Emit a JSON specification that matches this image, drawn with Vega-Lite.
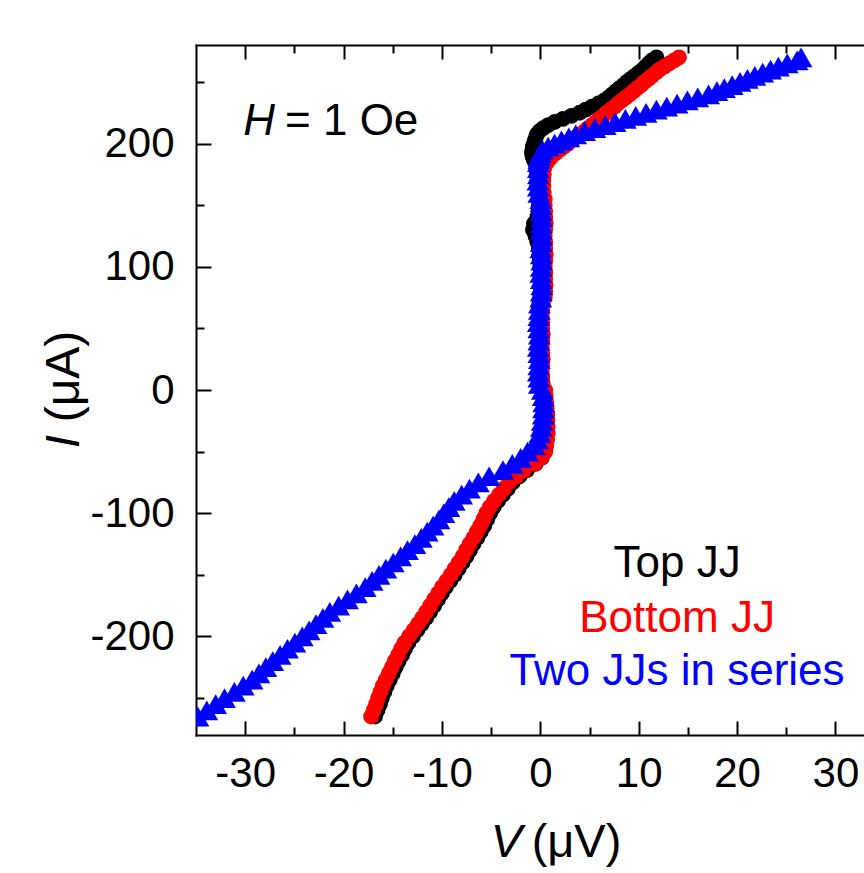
{
"$schema":"https://vega.github.io/schema/vega-lite/v6.json",
"width":668,"height":690,
"autosize":{"type":"none"},
"padding":{"left":196,"top":45,"right":0,"bottom":138},
"background":"white",
"config":{"view":{"stroke":null},"font":"Liberation Sans"},
"datasets":{"iv":[
{"series":"Top JJ","I":-265,"V":-16.8},{"series":"Top JJ","I":-260,"V":-16.55},{"series":"Top JJ","I":-255,"V":-16.3},{"series":"Top JJ","I":-250,"V":-16.1},{"series":"Top JJ","I":-245,"V":-15.85},{"series":"Top JJ","I":-240,"V":-15.6},{"series":"Top JJ","I":-235,"V":-15.3},{"series":"Top JJ","I":-230,"V":-15.0},{"series":"Top JJ","I":-225,"V":-14.7},{"series":"Top JJ","I":-220,"V":-14.4},{"series":"Top JJ","I":-215,"V":-14.05},{"series":"Top JJ","I":-210,"V":-13.75},{"series":"Top JJ","I":-205,"V":-13.4},{"series":"Top JJ","I":-200,"V":-12.95},{"series":"Top JJ","I":-195,"V":-12.5},{"series":"Top JJ","I":-190,"V":-12.05},{"series":"Top JJ","I":-185,"V":-11.6},{"series":"Top JJ","I":-180,"V":-11.2},{"series":"Top JJ","I":-175,"V":-10.8},{"series":"Top JJ","I":-170,"V":-10.4},{"series":"Top JJ","I":-165,"V":-10.0},{"series":"Top JJ","I":-160,"V":-9.6},{"series":"Top JJ","I":-155,"V":-9.15},{"series":"Top JJ","I":-150,"V":-8.7},{"series":"Top JJ","I":-145,"V":-8.3},{"series":"Top JJ","I":-140,"V":-7.9},{"series":"Top JJ","I":-135,"V":-7.5},{"series":"Top JJ","I":-130,"V":-7.15},{"series":"Top JJ","I":-125,"V":-6.8},{"series":"Top JJ","I":-120,"V":-6.4},{"series":"Top JJ","I":-115,"V":-6.05},{"series":"Top JJ","I":-110,"V":-5.7},{"series":"Top JJ","I":-105,"V":-5.4},{"series":"Top JJ","I":-100,"V":-5.1},{"series":"Top JJ","I":-95,"V":-4.75},{"series":"Top JJ","I":-90,"V":-4.3},{"series":"Top JJ","I":-85,"V":-3.8},{"series":"Top JJ","I":-80,"V":-3.3},{"series":"Top JJ","I":-75,"V":-2.8},{"series":"Top JJ","I":-70,"V":-2.1},{"series":"Top JJ","I":-65,"V":-1.35},{"series":"Top JJ","I":-60,"V":-0.5},{"series":"Top JJ","I":-55,"V":0.15},{"series":"Top JJ","I":-50,"V":0.45},{"series":"Top JJ","I":-45,"V":0.55},{"series":"Top JJ","I":-40,"V":0.5},{"series":"Top JJ","I":-35,"V":0.45},{"series":"Top JJ","I":-30,"V":0.45},{"series":"Top JJ","I":-25,"V":0.4},{"series":"Top JJ","I":-20,"V":0.4},{"series":"Top JJ","I":-15,"V":0.35},{"series":"Top JJ","I":-10,"V":0.35},{"series":"Top JJ","I":-5,"V":0.3},{"series":"Top JJ","I":0,"V":0.2},{"series":"Top JJ","I":5,"V":0.0},{"series":"Top JJ","I":10,"V":-0.05},{"series":"Top JJ","I":15,"V":-0.1},{"series":"Top JJ","I":20,"V":-0.05},{"series":"Top JJ","I":25,"V":0.0},{"series":"Top JJ","I":30,"V":-0.05},{"series":"Top JJ","I":35,"V":-0.1},{"series":"Top JJ","I":40,"V":-0.1},{"series":"Top JJ","I":45,"V":-0.05},{"series":"Top JJ","I":50,"V":0.0},{"series":"Top JJ","I":55,"V":0.0},{"series":"Top JJ","I":60,"V":-0.05},{"series":"Top JJ","I":65,"V":-0.1},{"series":"Top JJ","I":70,"V":-0.1},{"series":"Top JJ","I":75,"V":0.0},{"series":"Top JJ","I":80,"V":0.05},{"series":"Top JJ","I":85,"V":0.0},{"series":"Top JJ","I":90,"V":0.0},{"series":"Top JJ","I":95,"V":0.05},{"series":"Top JJ","I":100,"V":0.0},{"series":"Top JJ","I":105,"V":-0.05},{"series":"Top JJ","I":110,"V":-0.1},{"series":"Top JJ","I":115,"V":-0.15},{"series":"Top JJ","I":120,"V":-0.3},{"series":"Top JJ","I":125,"V":-0.5},{"series":"Top JJ","I":130,"V":-0.75},{"series":"Top JJ","I":135,"V":-0.65},{"series":"Top JJ","I":140,"V":-0.3},{"series":"Top JJ","I":145,"V":-0.2},{"series":"Top JJ","I":150,"V":-0.15},{"series":"Top JJ","I":155,"V":-0.15},{"series":"Top JJ","I":160,"V":-0.25},{"series":"Top JJ","I":165,"V":-0.3},{"series":"Top JJ","I":170,"V":-0.3},{"series":"Top JJ","I":175,"V":-0.35},{"series":"Top JJ","I":180,"V":-0.4},{"series":"Top JJ","I":185,"V":-0.55},{"series":"Top JJ","I":187.5,"V":-0.7},{"series":"Top JJ","I":190,"V":-0.8},{"series":"Top JJ","I":192.5,"V":-0.85},{"series":"Top JJ","I":195,"V":-0.8},{"series":"Top JJ","I":197.5,"V":-0.75},{"series":"Top JJ","I":200,"V":-0.65},{"series":"Top JJ","I":202.5,"V":-0.55},{"series":"Top JJ","I":205,"V":-0.45},{"series":"Top JJ","I":207.5,"V":-0.35},{"series":"Top JJ","I":210,"V":-0.1},{"series":"Top JJ","I":212.5,"V":0.3},{"series":"Top JJ","I":215,"V":0.8},{"series":"Top JJ","I":217.5,"V":1.45},{"series":"Top JJ","I":220,"V":2.3},{"series":"Top JJ","I":222.5,"V":3.15},{"series":"Top JJ","I":225,"V":4.0},{"series":"Top JJ","I":227.5,"V":4.6},{"series":"Top JJ","I":230,"V":5.25},{"series":"Top JJ","I":232.5,"V":5.9},{"series":"Top JJ","I":235,"V":6.5},{"series":"Top JJ","I":237.5,"V":6.95},{"series":"Top JJ","I":240,"V":7.3},{"series":"Top JJ","I":242.5,"V":7.7},{"series":"Top JJ","I":245,"V":8.05},{"series":"Top JJ","I":247.5,"V":8.45},{"series":"Top JJ","I":250,"V":8.8},{"series":"Top JJ","I":252.5,"V":9.2},{"series":"Top JJ","I":255,"V":9.6},{"series":"Top JJ","I":257.5,"V":10.0},{"series":"Top JJ","I":260,"V":10.4},{"series":"Top JJ","I":262.5,"V":10.7},{"series":"Top JJ","I":265,"V":11.0},{"series":"Top JJ","I":267.5,"V":11.35},{"series":"Top JJ","I":270,"V":11.8},
{"series":"Bottom JJ","I":-265,"V":-17.2},{"series":"Bottom JJ","I":-260,"V":-16.95},{"series":"Bottom JJ","I":-255,"V":-16.7},{"series":"Bottom JJ","I":-250,"V":-16.5},{"series":"Bottom JJ","I":-245,"V":-16.25},{"series":"Bottom JJ","I":-240,"V":-16.0},{"series":"Bottom JJ","I":-235,"V":-15.7},{"series":"Bottom JJ","I":-230,"V":-15.4},{"series":"Bottom JJ","I":-225,"V":-15.1},{"series":"Bottom JJ","I":-220,"V":-14.8},{"series":"Bottom JJ","I":-215,"V":-14.45},{"series":"Bottom JJ","I":-210,"V":-14.15},{"series":"Bottom JJ","I":-205,"V":-13.8},{"series":"Bottom JJ","I":-200,"V":-13.35},{"series":"Bottom JJ","I":-195,"V":-12.9},{"series":"Bottom JJ","I":-190,"V":-12.45},{"series":"Bottom JJ","I":-185,"V":-12.0},{"series":"Bottom JJ","I":-180,"V":-11.6},{"series":"Bottom JJ","I":-175,"V":-11.2},{"series":"Bottom JJ","I":-170,"V":-10.8},{"series":"Bottom JJ","I":-165,"V":-10.4},{"series":"Bottom JJ","I":-160,"V":-10.0},{"series":"Bottom JJ","I":-155,"V":-9.55},{"series":"Bottom JJ","I":-150,"V":-9.1},{"series":"Bottom JJ","I":-145,"V":-8.7},{"series":"Bottom JJ","I":-140,"V":-8.3},{"series":"Bottom JJ","I":-135,"V":-7.9},{"series":"Bottom JJ","I":-130,"V":-7.55},{"series":"Bottom JJ","I":-125,"V":-7.2},{"series":"Bottom JJ","I":-120,"V":-6.8},{"series":"Bottom JJ","I":-115,"V":-6.45},{"series":"Bottom JJ","I":-110,"V":-6.1},{"series":"Bottom JJ","I":-105,"V":-5.8},{"series":"Bottom JJ","I":-100,"V":-5.5},{"series":"Bottom JJ","I":-95,"V":-5.15},{"series":"Bottom JJ","I":-90,"V":-4.7},{"series":"Bottom JJ","I":-85,"V":-4.2},{"series":"Bottom JJ","I":-80,"V":-3.7},{"series":"Bottom JJ","I":-75,"V":-3.2},{"series":"Bottom JJ","I":-70,"V":-2.4},{"series":"Bottom JJ","I":-65,"V":-1.65},{"series":"Bottom JJ","I":-60,"V":-0.6},{"series":"Bottom JJ","I":-55,"V":0.1},{"series":"Bottom JJ","I":-50,"V":0.5},{"series":"Bottom JJ","I":-45,"V":0.6},{"series":"Bottom JJ","I":-40,"V":0.7},{"series":"Bottom JJ","I":-35,"V":0.75},{"series":"Bottom JJ","I":-30,"V":0.75},{"series":"Bottom JJ","I":-25,"V":0.72},{"series":"Bottom JJ","I":-20,"V":0.7},{"series":"Bottom JJ","I":-15,"V":0.65},{"series":"Bottom JJ","I":-10,"V":0.6},{"series":"Bottom JJ","I":-5,"V":0.55},{"series":"Bottom JJ","I":0,"V":0.5},{"series":"Bottom JJ","I":5,"V":0.25},{"series":"Bottom JJ","I":10,"V":0.2},{"series":"Bottom JJ","I":15,"V":0.15},{"series":"Bottom JJ","I":20,"V":0.2},{"series":"Bottom JJ","I":25,"V":0.25},{"series":"Bottom JJ","I":30,"V":0.2},{"series":"Bottom JJ","I":35,"V":0.15},{"series":"Bottom JJ","I":40,"V":0.2},{"series":"Bottom JJ","I":45,"V":0.25},{"series":"Bottom JJ","I":50,"V":0.2},{"series":"Bottom JJ","I":55,"V":0.2},{"series":"Bottom JJ","I":60,"V":0.15},{"series":"Bottom JJ","I":65,"V":0.2},{"series":"Bottom JJ","I":70,"V":0.25},{"series":"Bottom JJ","I":75,"V":0.45},{"series":"Bottom JJ","I":80,"V":0.5},{"series":"Bottom JJ","I":85,"V":0.55},{"series":"Bottom JJ","I":90,"V":0.5},{"series":"Bottom JJ","I":95,"V":0.5},{"series":"Bottom JJ","I":100,"V":0.45},{"series":"Bottom JJ","I":105,"V":0.5},{"series":"Bottom JJ","I":110,"V":0.55},{"series":"Bottom JJ","I":115,"V":0.5},{"series":"Bottom JJ","I":120,"V":0.5},{"series":"Bottom JJ","I":125,"V":0.45},{"series":"Bottom JJ","I":130,"V":0.5},{"series":"Bottom JJ","I":135,"V":0.55},{"series":"Bottom JJ","I":140,"V":0.5},{"series":"Bottom JJ","I":145,"V":0.5},{"series":"Bottom JJ","I":150,"V":0.45},{"series":"Bottom JJ","I":155,"V":0.45},{"series":"Bottom JJ","I":160,"V":0.35},{"series":"Bottom JJ","I":165,"V":0.3},{"series":"Bottom JJ","I":170,"V":0.3},{"series":"Bottom JJ","I":175,"V":0.35},{"series":"Bottom JJ","I":180,"V":0.4},{"series":"Bottom JJ","I":185,"V":0.7},{"series":"Bottom JJ","I":187.5,"V":0.95},{"series":"Bottom JJ","I":190,"V":1.2},{"series":"Bottom JJ","I":192.5,"V":1.6},{"series":"Bottom JJ","I":195,"V":2.0},{"series":"Bottom JJ","I":197.5,"V":2.4},{"series":"Bottom JJ","I":200,"V":2.8},{"series":"Bottom JJ","I":202.5,"V":3.2},{"series":"Bottom JJ","I":205,"V":3.6},{"series":"Bottom JJ","I":207.5,"V":4.05},{"series":"Bottom JJ","I":210,"V":4.5},{"series":"Bottom JJ","I":212.5,"V":4.85},{"series":"Bottom JJ","I":215,"V":5.25},{"series":"Bottom JJ","I":217.5,"V":5.65},{"series":"Bottom JJ","I":220,"V":6.0},{"series":"Bottom JJ","I":222.5,"V":6.4},{"series":"Bottom JJ","I":225,"V":6.75},{"series":"Bottom JJ","I":227.5,"V":7.15},{"series":"Bottom JJ","I":230,"V":7.55},{"series":"Bottom JJ","I":232.5,"V":7.9},{"series":"Bottom JJ","I":235,"V":8.3},{"series":"Bottom JJ","I":237.5,"V":8.7},{"series":"Bottom JJ","I":240,"V":9.1},{"series":"Bottom JJ","I":242.5,"V":9.5},{"series":"Bottom JJ","I":245,"V":9.85},{"series":"Bottom JJ","I":247.5,"V":10.25},{"series":"Bottom JJ","I":250,"V":10.6},{"series":"Bottom JJ","I":252.5,"V":11.0},{"series":"Bottom JJ","I":255,"V":11.35},{"series":"Bottom JJ","I":257.5,"V":11.75},{"series":"Bottom JJ","I":260,"V":12.1},{"series":"Bottom JJ","I":262.5,"V":12.6},{"series":"Bottom JJ","I":265,"V":13.1},{"series":"Bottom JJ","I":267.5,"V":13.6},{"series":"Bottom JJ","I":270,"V":14.1},
{"series":"Two JJs in series","I":-265,"V":-34.8},{"series":"Two JJs in series","I":-260,"V":-33.9},{"series":"Two JJs in series","I":-255,"V":-33.0},{"series":"Two JJs in series","I":-250,"V":-32.1},{"series":"Two JJs in series","I":-245,"V":-31.1},{"series":"Two JJs in series","I":-240,"V":-30.2},{"series":"Two JJs in series","I":-235,"V":-29.3},{"series":"Two JJs in series","I":-230,"V":-28.6},{"series":"Two JJs in series","I":-225,"V":-27.9},{"series":"Two JJs in series","I":-220,"V":-27.2},{"series":"Two JJs in series","I":-215,"V":-26.45},{"series":"Two JJs in series","I":-210,"V":-25.7},{"series":"Two JJs in series","I":-205,"V":-24.95},{"series":"Two JJs in series","I":-200,"V":-24.2},{"series":"Two JJs in series","I":-195,"V":-23.5},{"series":"Two JJs in series","I":-190,"V":-22.8},{"series":"Two JJs in series","I":-185,"V":-22.1},{"series":"Two JJs in series","I":-180,"V":-21.4},{"series":"Two JJs in series","I":-175,"V":-20.5},{"series":"Two JJs in series","I":-170,"V":-19.6},{"series":"Two JJs in series","I":-165,"V":-18.7},{"series":"Two JJs in series","I":-160,"V":-17.8},{"series":"Two JJs in series","I":-155,"V":-17.1},{"series":"Two JJs in series","I":-150,"V":-16.4},{"series":"Two JJs in series","I":-145,"V":-15.7},{"series":"Two JJs in series","I":-140,"V":-14.95},{"series":"Two JJs in series","I":-135,"V":-14.2},{"series":"Two JJs in series","I":-130,"V":-13.5},{"series":"Two JJs in series","I":-125,"V":-12.75},{"series":"Two JJs in series","I":-120,"V":-12.1},{"series":"Two JJs in series","I":-115,"V":-11.5},{"series":"Two JJs in series","I":-110,"V":-10.9},{"series":"Two JJs in series","I":-105,"V":-10.3},{"series":"Two JJs in series","I":-100,"V":-9.8},{"series":"Two JJs in series","I":-95,"V":-9.3},{"series":"Two JJs in series","I":-90,"V":-8.75},{"series":"Two JJs in series","I":-85,"V":-8.0},{"series":"Two JJs in series","I":-80,"V":-7.2},{"series":"Two JJs in series","I":-75,"V":-6.3},{"series":"Two JJs in series","I":-70,"V":-5.2},{"series":"Two JJs in series","I":-65,"V":-3.8},{"series":"Two JJs in series","I":-60,"V":-2.85},{"series":"Two JJs in series","I":-55,"V":-2.0},{"series":"Two JJs in series","I":-50,"V":-1.3},{"series":"Two JJs in series","I":-45,"V":-0.6},{"series":"Two JJs in series","I":-40,"V":-0.3},{"series":"Two JJs in series","I":-35,"V":-0.05},{"series":"Two JJs in series","I":-30,"V":0.1},{"series":"Two JJs in series","I":-25,"V":0.2},{"series":"Two JJs in series","I":-20,"V":0.3},{"series":"Two JJs in series","I":-15,"V":0.33},{"series":"Two JJs in series","I":-10,"V":0.35},{"series":"Two JJs in series","I":-5,"V":0.3},{"series":"Two JJs in series","I":0,"V":0.2},{"series":"Two JJs in series","I":5,"V":-0.1},{"series":"Two JJs in series","I":10,"V":-0.15},{"series":"Two JJs in series","I":15,"V":-0.2},{"series":"Two JJs in series","I":20,"V":-0.15},{"series":"Two JJs in series","I":25,"V":-0.1},{"series":"Two JJs in series","I":30,"V":-0.15},{"series":"Two JJs in series","I":35,"V":-0.2},{"series":"Two JJs in series","I":40,"V":-0.15},{"series":"Two JJs in series","I":45,"V":-0.1},{"series":"Two JJs in series","I":50,"V":-0.15},{"series":"Two JJs in series","I":55,"V":-0.2},{"series":"Two JJs in series","I":60,"V":-0.15},{"series":"Two JJs in series","I":65,"V":-0.1},{"series":"Two JJs in series","I":70,"V":-0.1},{"series":"Two JJs in series","I":75,"V":0.05},{"series":"Two JJs in series","I":80,"V":0.1},{"series":"Two JJs in series","I":85,"V":0.15},{"series":"Two JJs in series","I":90,"V":0.1},{"series":"Two JJs in series","I":95,"V":0.05},{"series":"Two JJs in series","I":100,"V":0.1},{"series":"Two JJs in series","I":105,"V":0.15},{"series":"Two JJs in series","I":110,"V":0.1},{"series":"Two JJs in series","I":115,"V":0.05},{"series":"Two JJs in series","I":120,"V":0.1},{"series":"Two JJs in series","I":125,"V":0.15},{"series":"Two JJs in series","I":130,"V":0.1},{"series":"Two JJs in series","I":135,"V":0.1},{"series":"Two JJs in series","I":140,"V":0.15},{"series":"Two JJs in series","I":145,"V":0.1},{"series":"Two JJs in series","I":150,"V":0.05},{"series":"Two JJs in series","I":155,"V":0.05},{"series":"Two JJs in series","I":160,"V":-0.15},{"series":"Two JJs in series","I":165,"V":-0.2},{"series":"Two JJs in series","I":170,"V":-0.25},{"series":"Two JJs in series","I":175,"V":-0.2},{"series":"Two JJs in series","I":180,"V":-0.2},{"series":"Two JJs in series","I":185,"V":-0.2},{"series":"Two JJs in series","I":187.5,"V":-0.15},{"series":"Two JJs in series","I":190,"V":-0.1},{"series":"Two JJs in series","I":192.5,"V":0.05},{"series":"Two JJs in series","I":195,"V":0.2},{"series":"Two JJs in series","I":197.5,"V":0.8},{"series":"Two JJs in series","I":200,"V":1.45},{"series":"Two JJs in series","I":202.5,"V":2.15},{"series":"Two JJs in series","I":205,"V":2.9},{"series":"Two JJs in series","I":207.5,"V":3.6},{"series":"Two JJs in series","I":210,"V":4.5},{"series":"Two JJs in series","I":212.5,"V":5.55},{"series":"Two JJs in series","I":215,"V":6.6},{"series":"Two JJs in series","I":217.5,"V":7.6},{"series":"Two JJs in series","I":220,"V":8.65},{"series":"Two JJs in series","I":222.5,"V":9.7},{"series":"Two JJs in series","I":225,"V":10.75},{"series":"Two JJs in series","I":227.5,"V":11.8},{"series":"Two JJs in series","I":230,"V":12.85},{"series":"Two JJs in series","I":232.5,"V":13.9},{"series":"Two JJs in series","I":235,"V":14.95},{"series":"Two JJs in series","I":237.5,"V":16.0},{"series":"Two JJs in series","I":240,"V":17.1},{"series":"Two JJs in series","I":242.5,"V":17.95},{"series":"Two JJs in series","I":245,"V":18.7},{"series":"Two JJs in series","I":247.5,"V":19.5},{"series":"Two JJs in series","I":250,"V":20.3},{"series":"Two JJs in series","I":252.5,"V":21.05},{"series":"Two JJs in series","I":255,"V":21.8},{"series":"Two JJs in series","I":257.5,"V":22.6},{"series":"Two JJs in series","I":260,"V":23.4},{"series":"Two JJs in series","I":262.5,"V":24.2},{"series":"Two JJs in series","I":265,"V":25.1},{"series":"Two JJs in series","I":267.5,"V":26.1},{"series":"Two JJs in series","I":270,"V":26.5}
]},
"layer":[
{
"data":{"name":"iv"},
"mark":{"type":"point","filled":true,"opacity":1,"strokeWidth":0,"clip":true},
"encoding":{
"x":{"field":"V","type":"quantitative","scale":{"domain":[-35,32.9],"nice":false,"zero":false},
"axis":{"orient":"bottom","values":[-30,-25,-20,-15,-10,-5,0,5,10,15,20,25,30],"labelExpr":"datum.value % 10 === 0 ? '' + datum.value : ''","labelOverlap":false,"labelFlush":false,"labelBound":false,"grid":false,
"tickSize":{"condition":{"test":"datum.value % 10 === 0","value":-14},"value":-8},"tickWidth":2,"tickColor":"black","domainWidth":2,"domainColor":"black","domainCap":"square",
"labelFontSize":42,"labelColor":"black","labelFont":"Liberation Sans","labelPadding":32,
"title":"(μV)","titleFontSize":47,"titleFontWeight":"normal","titleColor":"black","titleFont":"Liberation Sans","titleX":380,"titleY":121,"titleAlign":"center","titleBaseline":"alphabetic","titleAngle":0}},
"y":{"field":"I","type":"quantitative","scale":{"domain":[-280,280],"nice":false,"zero":false},
"axis":{"orient":"left","values":[-250,-200,-150,-100,-50,0,50,100,150,200,250],"labelExpr":"datum.value % 100 === 0 ? '' + datum.value : ''","labelOverlap":false,"labelFlush":false,"labelBound":false,"grid":false,
"tickSize":{"condition":{"test":"datum.value % 100 === 0","value":-15},"value":-8},"tickWidth":2,"tickColor":"black","domainWidth":2,"domainColor":"black","domainCap":"square",
"labelFontSize":42,"labelColor":"black","labelFont":"Liberation Sans","labelPadding":37,
"title":"(μA)","titleFontSize":48,"titleFontWeight":"normal","titleColor":"black","titleFont":"Liberation Sans","titleX":-118,"titleY":331,"titleAlign":"center","titleBaseline":"alphabetic","titleAngle":-90}},
"color":{"field":"series","type":"nominal","scale":{"domain":["Top JJ","Bottom JJ","Two JJs in series"],"range":["#000000","#ff0000","#0000ff"]},"legend":null},
"shape":{"field":"series","type":"nominal","scale":{"domain":["Top JJ","Bottom JJ","Two JJs in series"],"range":["circle","circle","triangle-up"]},"legend":null},
"size":{"condition":{"test":"datum.series === 'Two JJs in series'","value":520},"value":250}
}
},
{
"data":{"values":[{}]},
"mark":{"type":"text","text":"H","fontSize":44,"fontStyle":"italic","font":"Liberation Sans","align":"left","baseline":"alphabetic","color":"black"},
"encoding":{
"x":{"datum":-30.2,"type":"quantitative","scale":{"domain":[-35,32.9],"nice":false,"zero":false},
"axis":{"orient":"top","values":[-30,-25,-20,-15,-10,-5,0,5,10,15,20,25,30],"labels":false,"grid":false,
"tickSize":{"condition":{"test":"datum.value % 10 === 0","value":-14},"value":-8},"tickWidth":2,"tickColor":"black","domainWidth":2,"domainColor":"black","domainCap":"square","title":null}},
"y":{"datum":207,"type":"quantitative","scale":{"domain":[-280,280],"nice":false,"zero":false},
"axis":{"orient":"left","domain":false,"ticks":false,"labels":false,"grid":false,
"title":"I","titleFontSize":48,"titleFontWeight":"normal","titleFontStyle":"italic","titleColor":"black","titleFont":"Liberation Sans","titleX":-118,"titleY":396,"titleAlign":"center","titleBaseline":"alphabetic","titleAngle":-90}}
}
},
{
"data":{"values":[{}]},
"mark":{"type":"text","text":"= 1 Oe","fontSize":44,"font":"Liberation Sans","align":"left","baseline":"alphabetic","color":"black"},
"encoding":{
"x":{"datum":-25.95,"type":"quantitative","axis":null},
"y":{"datum":207,"type":"quantitative","axis":null}
}
},
{
"data":{"values":[{}]},
"mark":{"type":"text","text":"Top JJ","fontSize":44,"font":"Liberation Sans","align":"center","baseline":"alphabetic","color":"#000000"},
"encoding":{
"x":{"datum":13.9,"type":"quantitative",
"axis":{"orient":"bottom","domain":false,"ticks":false,"labels":false,"grid":false,
"title":"V","titleFontSize":47,"titleFontWeight":"normal","titleFontStyle":"italic","titleColor":"black","titleFont":"Liberation Sans","titleX":310,"titleY":121,"titleAlign":"center","titleBaseline":"alphabetic","titleAngle":0}},
"y":{"datum":-151.5,"type":"quantitative","axis":null}
}
},
{
"data":{"values":[{}]},
"mark":{"type":"text","text":"Bottom JJ","fontSize":44,"font":"Liberation Sans","align":"center","baseline":"alphabetic","color":"#ff0000"},
"encoding":{
"x":{"datum":13.9,"type":"quantitative","axis":null},
"y":{"datum":-196.2,"type":"quantitative","axis":null}
}
},
{
"data":{"values":[{}]},
"mark":{"type":"text","text":"Two JJs in series","fontSize":44,"font":"Liberation Sans","align":"center","baseline":"alphabetic","color":"#0000ff"},
"encoding":{
"x":{"datum":13.9,"type":"quantitative","axis":null},
"y":{"datum":-239.4,"type":"quantitative","axis":null}
}
}
],
"resolve":{"axis":{"x":"independent","y":"independent"}}
}
